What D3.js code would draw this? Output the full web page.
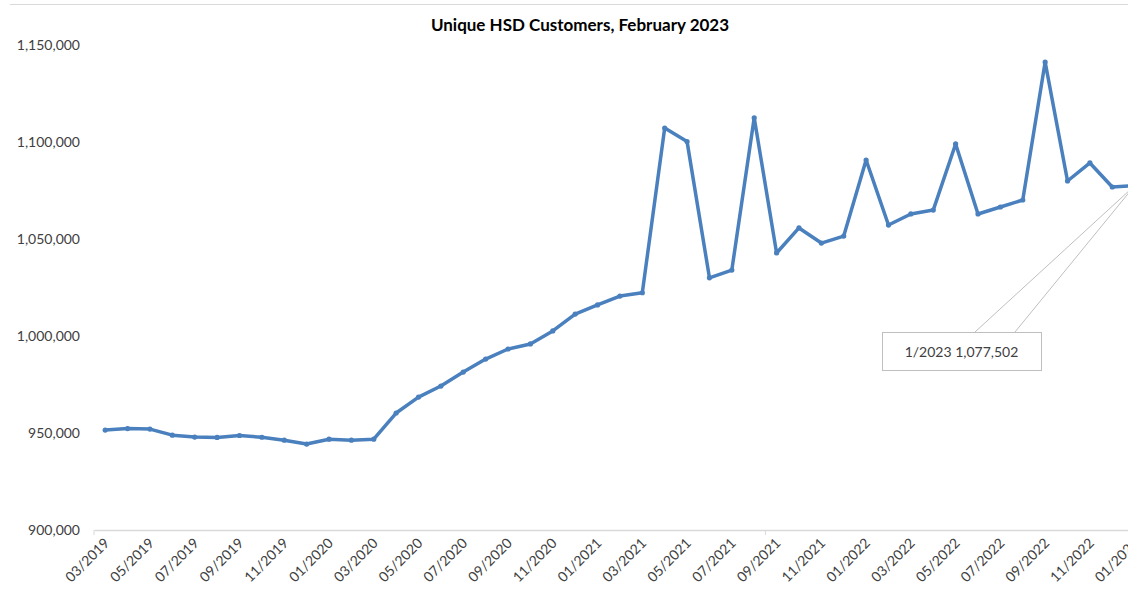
<!DOCTYPE html>
<html>
<head>
<meta charset="UTF-8">
<script src="https://d3js.org/d3.v7.min.js"></script>
<style>
  body { margin: 0; background: #fff; }
  svg { display: block; font-family: Lato, "Open Sans", sans-serif; }
</style>
</head>
<body>
<svg></svg>
<script>

var width = 1128, height = 595;

// months shown on the category axis (one per point)
var months = [
  "03/2019","04/2019","05/2019","06/2019","07/2019","08/2019","09/2019","10/2019","11/2019","12/2019",
  "01/2020","02/2020","03/2020","04/2020","05/2020","06/2020","07/2020","08/2020","09/2020","10/2020","11/2020","12/2020",
  "01/2021","02/2021","03/2021","04/2021","05/2021","06/2021","07/2021","08/2021","09/2021","10/2021","11/2021","12/2021",
  "01/2022","02/2022","03/2022","04/2022","05/2022","06/2022","07/2022","08/2022","09/2022","10/2022","11/2022","12/2022",
  "01/2023"];

// unique HSD customers
var customers = [
  951500, 952300, 952000, 948900, 947900, 947700, 948700, 947800, 946300, 944300,
  946800, 946300, 946800, 960300, 968500, 974200, 981400, 988100, 993300, 995900, 1002600, 1011300,
  1016000, 1020600, 1022300, 1107200, 1100200, 1030000, 1034000, 1112500, 1042800, 1055700, 1047900, 1051500,
  1090700, 1057200, 1062900, 1064900, 1099000, 1062900, 1066500, 1070100, 1141200, 1079900, 1089200, 1076800,
  1077502];

var yTicks = [900000, 950000, 1000000, 1050000, 1100000, 1150000];

var callout = { label: "1/2023", value: 1077502 };

var fmt = d3.format(",");

var svg = d3.select("svg").attr("width", width).attr("height", height);

var step = 22.38;
var x = d3.scaleBand()
  .domain(months)
  .range([94, 94 + months.length * step]);

var y = d3.scaleLinear()
  .domain([900000, 1150000])
  .range([530, 45]);

var cx = function(m) { return x(m) + x.bandwidth() / 2; };

// chart border (only the top edge shows)
svg.append("line")
  .attr("x1", 10).attr("x2", width)
  .attr("y1", 4.5).attr("y2", 4.5)
  .attr("stroke", "#d9d9d9");

// title
svg.append("text")
  .attr("x", 580).attr("y", 31)
  .attr("text-anchor", "middle")
  .attr("font-size", 17)
  .attr("font-weight", "bold")
  .attr("fill", "#000")
  .text("Unique HSD Customers, February 2023");

// y axis labels (no line, no ticks)
var yAxis = svg.append("g")
  .attr("transform", "translate(92,0)")
  .call(d3.axisLeft(y).tickValues(yTicks).tickFormat(fmt).tickSize(0).tickPadding(12));
yAxis.select(".domain").remove();
yAxis.selectAll("text")
  .attr("font-family", "Lato, 'Open Sans', sans-serif")
  .attr("font-size", 14)
  .attr("fill", "#404040");

// x axis
var xAxis = svg.append("g")
  .attr("transform", "translate(0,530)")
  .call(d3.axisBottom(x).tickSize(0).tickPadding(0)
    .tickFormat(function(d, i) { return i % 2 === 0 ? d : ""; }));
xAxis.select(".domain").attr("stroke", "#d9d9d9").attr("stroke-width", 1.5);
xAxis.selectAll(".tick text")
  .attr("font-family", "Lato, 'Open Sans', sans-serif")
  .attr("font-size", 14)
  .attr("fill", "#404040")
  .attr("text-anchor", "end")
  .attr("dy", 0)
  .attr("transform", "translate(5,14) rotate(-45)");

// tick marks every 30 categories
svg.append("g").selectAll("line")
  .data(months.filter(function(d, i) { return i % 30 === 0; }))
  .enter().append("line")
  .attr("x1", function(d) { return x(d); })
  .attr("x2", function(d) { return x(d); })
  .attr("y1", 530).attr("y2", 535)
  .attr("stroke", "#d9d9d9");

// the line
var line = d3.line()
  .x(function(d, i) { return cx(months[i]); })
  .y(function(d) { return y(d); });

svg.append("path")
  .datum(customers)
  .attr("fill", "none")
  .attr("stroke", "#4a80bd")
  .attr("stroke-width", 3.5)
  .attr("stroke-linejoin", "round")
  .attr("d", line);

svg.append("g").selectAll("circle")
  .data(customers)
  .enter().append("circle")
  .attr("cx", function(d, i) { return cx(months[i]); })
  .attr("cy", function(d) { return y(d); })
  .attr("r", 2.6)
  .attr("fill", "#4a80bd");

// callout for the last point
var px = cx(months[months.length - 1]), py = y(callout.value);
var box = { x: 882, y: 332, w: 159, h: 38 };

svg.append("path")
  .attr("d", "M" + (box.x + 93) + "," + box.y + "L" + px + "," + py + "L" + (box.x + 133) + "," + box.y)
  .attr("fill", "none")
  .attr("stroke", "#bfbfbf");

svg.append("rect")
  .attr("x", box.x + 0.5).attr("y", box.y + 0.5)
  .attr("width", box.w).attr("height", box.h)
  .attr("fill", "#fff")
  .attr("stroke", "#bfbfbf");

svg.append("text")
  .attr("x", box.x + box.w / 2).attr("y", box.y + 25)
  .attr("text-anchor", "middle")
  .attr("font-size", 14)
  .attr("fill", "#404040")
  .text(callout.label + " " + fmt(callout.value));

</script>
</body>
</html>
